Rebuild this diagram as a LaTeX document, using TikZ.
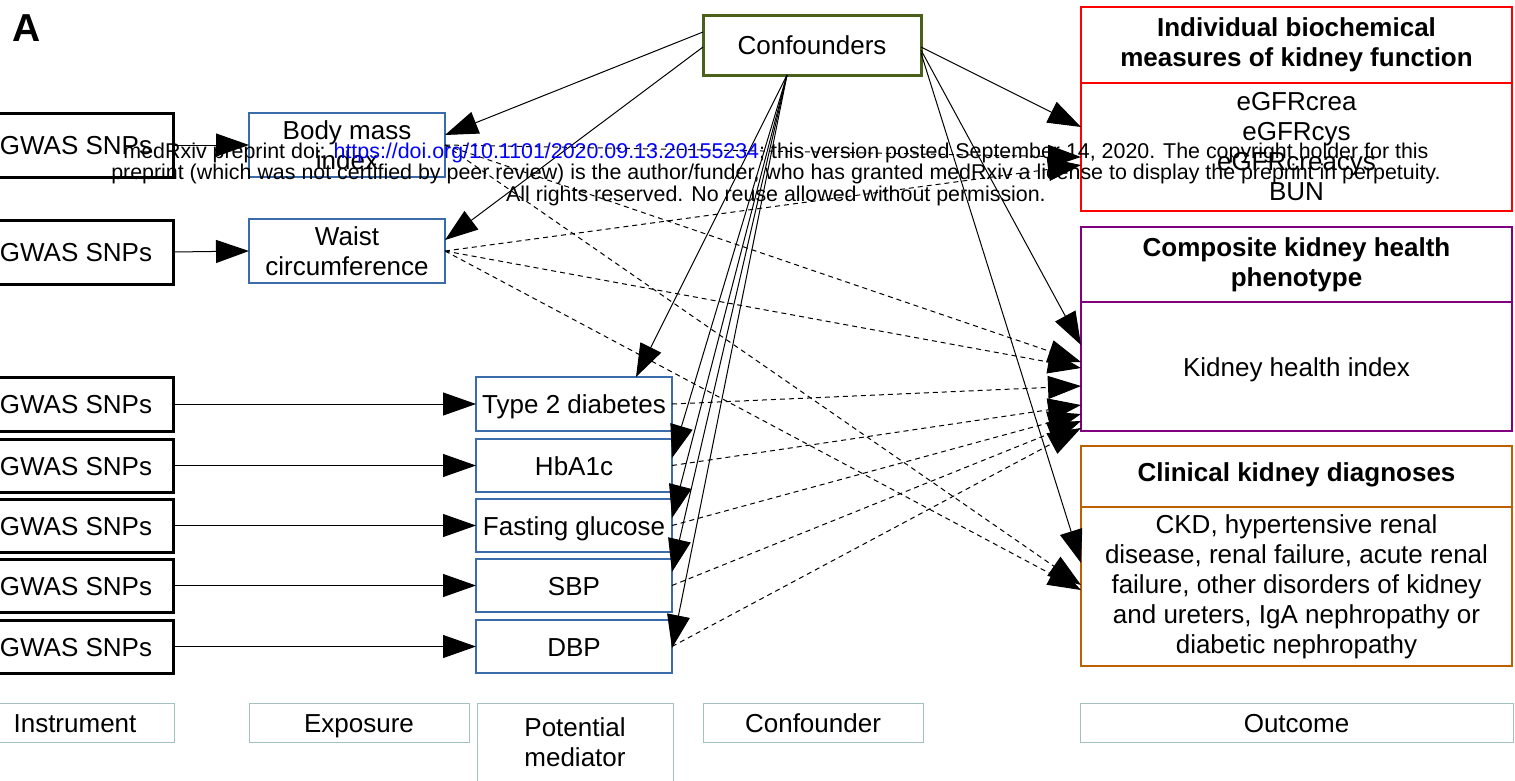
\documentclass[tikz,border=0pt]{standalone}
\usepackage{fontspec}
\setmainfont{Liberation Sans}
\usetikzlibrary{arrows.meta,calc}
\definecolor{bluebox}{HTML}{3A6BAA}
\definecolor{greenbox}{HTML}{4B6119}
\definecolor{redbox}{HTML}{FF0000}
\definecolor{purplebox}{HTML}{800080}
\definecolor{orangebox}{HTML}{BF6000}
\definecolor{labelline}{HTML}{A3C2BF}
\definecolor{linkblue}{HTML}{0000FF}
\begin{document}
\begin{tikzpicture}[x=1pt,y=-1pt,
  every node/.style={inner sep=0pt, outer sep=0pt, align=center, font=\fontsize{26}{30}\selectfont},
  sl/.style={text height=19pt, text depth=0pt},
  bx/.style 2 args={draw, rectangle, fill=white, minimum width=#1, minimum height=#2},
  gw/.style={bx={194pt}{#1}, line width=3pt, sl},
  ex/.style={bx={196pt}{#1}, draw=bluebox, line width=2.5pt},
  hd/.style={font=\fontsize{26}{30}\selectfont\bfseries},
  rbx/.style={bx={431pt}{#1}, draw=redbox, line width=2.5pt},
  pbx/.style={bx={431pt}{#1}, draw=purplebox, line width=2.5pt},
  obx/.style={bx={431pt}{#1}, draw=orangebox, line width=2.5pt},
  lab/.style 2 args={bx={#1}{#2}, draw=labelline, line width=1pt},
  arr/.style={-{Triangle[length=33pt,width=23pt]}, line width=1pt},
  dsh/.style={arr, dash pattern=on 5pt off 4pt}
]
\useasboundingbox (0,0) rectangle (1515,780);
\clip (0,0) rectangle (1515,780);

\node[font=\fontsize{39}{39}\selectfont\bfseries] (lblA) at (27,28) {A};

% instruments
\node[gw=64pt] (g1) at (76,145) {GWAS SNPs};
\node[gw=64pt] (g2) at (76,252) {GWAS SNPs};
\node[gw=54pt] (g3) at (76,404) {GWAS SNPs};
\node[gw=53pt] (g4) at (76,465.5) {GWAS SNPs};
\node[gw=53pt] (g5) at (76,525.5) {GWAS SNPs};
\node[gw=53pt] (g6) at (76,585.5) {GWAS SNPs};
\node[gw=53pt] (g7) at (76,646.5) {GWAS SNPs};

% exposures
\node[ex=64pt] (bmi) at (347,145) {Body mass\\index};
\node[ex=64pt] (waist) at (347,251) {Waist\\circumference};

% mediators
\node[ex=54pt, sl] (t2d) at (574,404) {Type 2 diabetes};
\node[ex=53pt, sl] (hba) at (574,465.5) {HbA1c};
\node[ex=53pt, sl] (fg) at (574,525.5) {Fasting glucose};
\node[ex=53pt, sl] (sbp) at (574,585.5) {SBP};
\node[ex=53pt, sl] (dbp) at (574,646.5) {DBP};

% confounders
\node[bx={218pt}{60pt}, draw=greenbox, line width=3pt, sl] (conf) at (812,45) {Confounders};

% outcomes
\node[rbx=76pt, hd] (rh) at (1296.5,45) {Individual biochemical\\measures of kidney function};
\node[rbx=128pt] (rb) at (1296.5,147) {eGFRcrea\\eGFRcys\\eGFRcreacys\\BUN};
\node[pbx=75pt, hd] (ph) at (1296.5,264.5) {Composite kidney health\\phenotype};
\node[pbx=129pt, sl] (pb) at (1296.5,366.5) {Kidney health index};
\node[obx=61pt, hd, text height=19pt, text depth=9pt] (oh) at (1296.5,476.5) {Clinical kidney diagnoses};
\node[obx=159pt] (ob) at (1296.5,586.5) {CKD, hypertensive renal\\disease, renal failure, acute renal\\failure, other disorders of kidney\\and ureters, IgA nephropathy or\\diabetic nephropathy};

% bottom labels
\node[lab={198pt}{39pt}, sl] (linst) at (75,722.5) {Instrument};
\node[lab={220pt}{39pt}, sl] (lexp) at (359,722.5) {Exposure};
\node[lab={196pt}{79pt}] (lmed) at (575,742.5) {Potential\\mediator};
\node[lab={220pt}{39pt}, sl] (lconf) at (813,722.5) {Confounder};
\node[lab={433pt}{39pt}, sl] (lout) at (1296.5,722.5) {Outcome};

% instrument arrows
\draw[arr] (g1.east) -- (bmi.west);
\draw[arr] (g2.east) -- (waist.west);
\draw[arr] (g3.east) -- (t2d.west);
\draw[arr] (g4.east) -- (hba.west);
\draw[arr] (g5.east) -- (fg.west);
\draw[arr] (g6.east) -- (sbp.west);
\draw[arr] (g7.east) -- (dbp.west);

% confounder arrows
\coordinate (cb) at ($(conf.south west)+(84,0)$);
\draw[arr] ($(conf.north west)+(0,17)$) -- ($(bmi.north east)+(0,22)$);
\draw[arr] ($(conf.north west)+(0,32)$) -- ($(waist.north east)+(0,21)$);
\draw[arr] (cb) -- ($(t2d.north west)+(160,0)$);
\draw[arr] (cb) -- ($(hba.north east)+(0,19)$);
\draw[arr] (cb) -- ($(fg.north east)+(0,19)$);
\draw[arr] (cb) -- ($(sbp.north east)+(0,13)$);
\draw[arr] (cb) -- ($(dbp.north east)+(0,28)$);
\draw[arr] ($(conf.north east)+(0,32)$) -- ($(rb.north west)+(0,44)$);
\draw[arr] ($(conf.north east)+(0,35)$) -- ($(pb.north west)+(0,43)$);
\draw[arr] ($(conf.north east)+(0,38)$) -- ($(ob.north west)+(0,56)$);

% dashed effects
\draw[dsh] (bmi.east) -- ($(rb.north west)+(0,74)$);
\draw[dsh] (waist.east) -- ($(rb.north west)+(0,82)$);
\draw[dsh] (bmi.east) -- ($(pb.north west)+(0,60)$);
\draw[dsh] (waist.east) -- ($(pb.north west)+(0,66)$);
\draw[dsh] (t2d.east) -- ($(pb.north west)+(0,84)$);
\draw[dsh] (hba.east) -- ($(pb.north west)+(0,103)$);
\draw[dsh] (fg.east) -- ($(pb.north west)+(0,112)$);
\draw[dsh] (sbp.east) -- ($(pb.north west)+(0,119)$);
\draw[dsh] (dbp.east) -- ($(pb.north west)+(0,126)$);
\draw[dsh] (bmi.east) -- ($(ob.north west)+(0,78)$);
\draw[dsh] (waist.east) -- ($(ob.north west)+(0,83)$);

% watermark
\node[font=\fontsize{21.4}{21.5}\selectfont] (wm) at (776,174) {medRxiv preprint doi: \textcolor{linkblue}{https://doi.org/10.1101/2020.09.13.20155234}; this version posted September 14, 2020. The copyright holder for this\\preprint (which was not certified by peer review) is the author/funder, who has granted medRxiv a license to display the preprint in perpetuity.\\All rights reserved. No reuse allowed without permission.};
\end{tikzpicture}
\end{document}
